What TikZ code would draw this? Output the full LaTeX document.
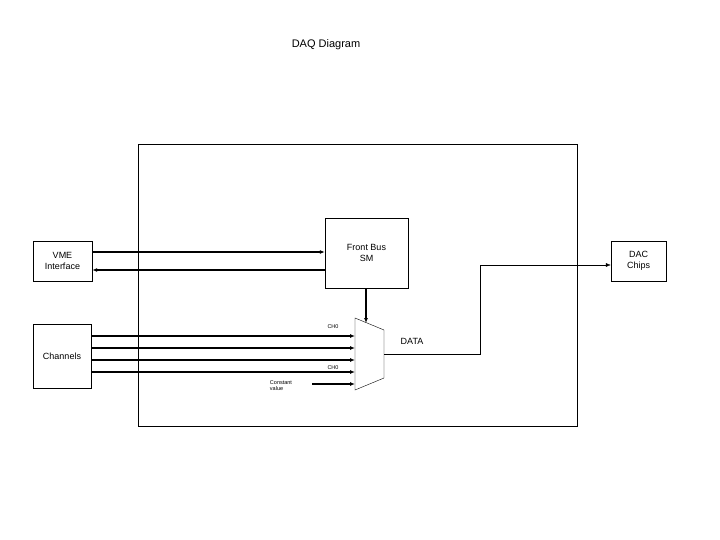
\documentclass[tikz,border=0pt]{standalone}
\usepackage{fontspec}
\setmainfont{Liberation Sans}
\usetikzlibrary{arrows.meta}
\begin{document}
\begin{tikzpicture}[x=1pt,y=-1pt,
  box/.style={draw,thin,inner sep=0pt,align=center,font=\fontsize{9}{11}\selectfont},
  arr/.style={line width=1.6pt,-{Latex[length=5pt,width=4pt]}},
  tiny/.style={font=\fontsize{5.5}{6}\selectfont,inner sep=0pt,align=left}]
\useasboundingbox (0,0) rectangle (720,540);
\node at (326,45) {\fontsize{11}{13}\selectfont DAQ Diagram};
\draw[thin] (138,144) rectangle (577,426);
\node[box,minimum width=83pt,minimum height=70pt] (fb) at (366.5,253) {Front Bus\\SM};
\node[box,minimum width=59pt,minimum height=40pt] (vme) at (62.5,261) {VME\\Interface};
\node[box,minimum width=55pt,minimum height=40pt] (dac) at (638.5,261) {DAC\\Chips};
\node[box,minimum width=58pt,minimum height=64pt] (ch) at (62,356) {Channels};
\draw[thin] (355,318) -- (384,330) -- (384,378) -- (355,390) -- cycle;
\coordinate (mt) at (366,323);
\coordinate (mo) at (384,354);
\draw[arr] (fb.south -| mt) -- (mt);
\draw[arr] (vme.east |- 0,252) -- (fb.west |- 0,252);
\draw[arr] (fb.west |- 0,270) -- (vme.east |- 0,270);
\foreach \y in {336,348,360,372}{\draw[arr] (ch.east |- 0,\y) -- (355,\y);}
\node[tiny] (cv) at (281,386) {Constant\\value};
\coordinate (cs) at (312,384);
\draw[arr] (cs) -- (355,384);
\node[tiny] (c1) at (333,327) {CH0};
\node[tiny] (c2) at (333,368) {CH0};
\node[font=\fontsize{9}{11}\selectfont] (data) at (412,341) {DATA};
\coordinate (k1) at (480,354);
\coordinate (k2) at (480,265);
\draw[thin] (mo) -- (k1) -- (k2);
\draw[thin,-{Latex[length=5pt,width=4pt]}] (k2) -- (dac.west |- k2);
\end{tikzpicture}
\end{document}
